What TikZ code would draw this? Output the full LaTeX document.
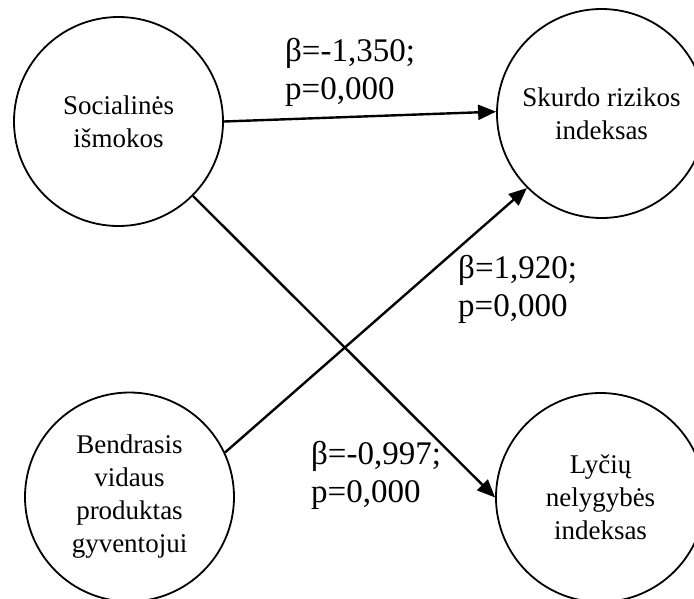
\documentclass[tikz,border=0pt]{standalone}
\usepackage{fontspec}
\setmainfont{Liberation Serif}
\usetikzlibrary{arrows.meta}
\tikzset{
  factor/.style={circle, draw, line width=1.8pt, minimum size=209pt, inner sep=0pt,
    align=center, font=\fontsize{27}{33}\selectfont},
  effect/.style={line width=2.4pt, -{Triangle[length=18pt,width=15pt]}},
  coef/.style={anchor=west, align=left, inner sep=0pt, font=\fontsize{33}{38}\selectfont}
}
\begin{document}
\begin{tikzpicture}[x=1pt, y=-1pt]
  \clip (0,0) rectangle (694,598);
  \fill[white] (0,0) rectangle (694,598);

  % variables
  \node[factor] (soc) at (118.5,121.5) {Socialinės\\išmokos};
  \node[factor] (skr) at (601.5,113.5) {Skurdo rizikos\\indeksas};
  \node[factor] (bvp) at (129.5,497) {Bendrasis\\vidaus\\produktas\\gyventojui};
  \node[factor] (lni) at (600.5,497.5) {Lyčių\\nelygybės\\indeksas};

  % paths
  \draw[effect] (soc.0) -- (skr.179);
  \draw[effect] (bvp.25) -- (skr.225);
  \draw[effect] (soc.-45) -- (lni.180);

  % coefficients
  \node[coef] (k1) at (285,72) {β=-1,350;\\p=0,000};
  \node[coef] (k2) at (458,289) {β=1,920;\\p=0,000};
  \node[coef] (k3) at (311,475) {β=-0,997;\\p=0,000};
\end{tikzpicture}
\end{document}
